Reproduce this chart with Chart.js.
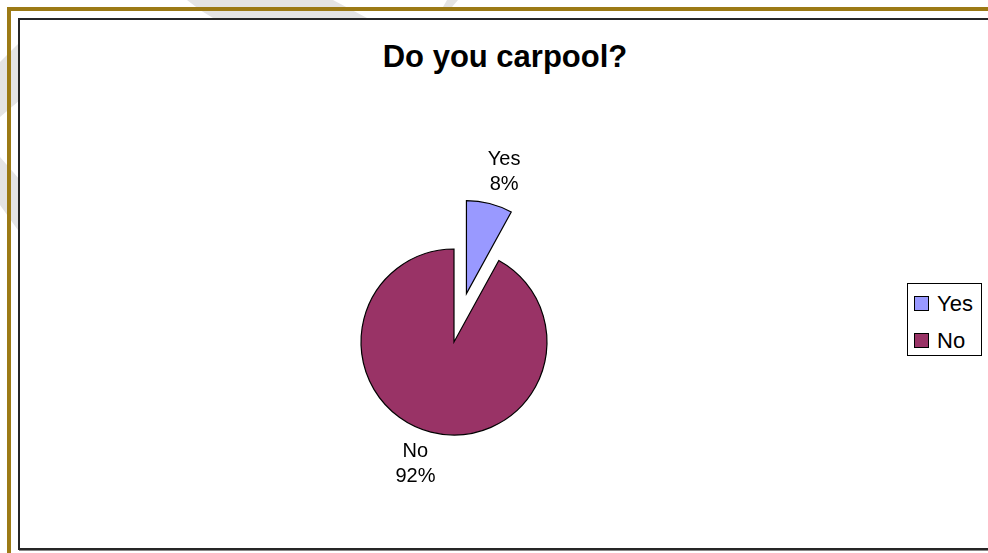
<!DOCTYPE html>
<html>
<head>
<meta charset="utf-8">
<title>Do you carpool?</title>
<script src="https://cdn.jsdelivr.net/npm/chart.js@4.4.1/dist/chart.umd.min.js"></script>
<style>
    html, body { margin: 0; padding: 0; background: #fff; }
    body { width: 988px; height: 553px; position: relative; overflow: hidden; font-family: 'Liberation Sans', Arial, sans-serif; }
    .mark { position: absolute; left: 0; top: 0; width: 988px; height: 553px; background: #e4e4e4; }
    .gold { position: absolute; left: 7px; top: 7px; width: 1000px; height: 600px; border: 4px solid #9c7a15; box-sizing: border-box; }
    .inner { position: absolute; left: 18px; top: 18px; width: 1000px; height: 532px; border: 2px solid #262626; box-sizing: border-box; background: #fff; box-shadow: 1px 1px 0 #888; }
    #title { position: absolute; left: 0; width: 1010px; top: 39px; text-align: center; font-weight: bold; font-size: 31px; color: #000; }
    #chart { position: absolute; left: 0; top: 0; }
    .legend { position: absolute; left: 907px; top: 283px; width: 75px; height: 73px; border: 1px solid #000; box-sizing: border-box; background: #fff; }
    .legend .row { position: absolute; left: 6px; height: 24px; line-height: 24px; font-size: 22px; color: #000; }
    .legend .sw { display: inline-block; width: 13px; height: 13px; border: 1px solid #000; vertical-align: middle; margin-right: 8px; position: relative; top: -2px; }
</style>
</head>
<body>
<!-- faint watermark strokes behind the frame -->
<div class="mark" style="clip-path: polygon(0 62px, 20px 42px, 20px 100px, 0 117px);"></div>
<div class="mark" style="clip-path: polygon(0 157px, 20px 180px, 20px 233px, 0 205px);"></div>
<div class="mark" style="clip-path: polygon(187px 0, 333px 0, 367px 18px, 213px 18px, 200px 10px);"></div>
<div class="mark" style="clip-path: polygon(447px 0, 458px 0, 452px 7px, 443px 7px);"></div>
<div class="gold"></div>
<div class="inner"></div>
<div id="title">Do you carpool?</div>
<canvas id="chart" width="988" height="553"></canvas>
<div class="legend">
    <div class="row" style="top: 8px;"><span class="sw" style="background:#9999ff;"></span>Yes</div>
    <div class="row" style="top: 45px;"><span class="sw" style="background:#993366;"></span>No</div>
</div>
<script>
// --- DATA ---
const categories = ['Yes', 'No'];
const percents = [8, 92];
const sliceColors = ['#9999ff', '#993366'];
const explode = [50, 0]; // pull-out in px, same radius kept

// draw each arc shifted along its mid angle (built-in offset also grows the radius)
const explodeArcs = {
    id: 'explodeArcs',
    beforeDatasetDraw(chart, args) {
        const ctx = chart.ctx;
        args.meta.data.forEach((arc, i) => {
            const mid = (arc.startAngle + arc.endAngle) / 2;
            ctx.save();
            ctx.translate(Math.cos(mid) * explode[i], Math.sin(mid) * explode[i]);
            arc.draw(ctx);
            ctx.restore();
        });
        return false;
    }
};

// slice labels drawn outside each arc
const sliceLabels = {
    id: 'sliceLabels',
    afterDatasetsDraw(chart) {
        const ctx = chart.ctx;
        const meta = chart.getDatasetMeta(0);
        ctx.save();
        ctx.font = "20px 'Liberation Sans', Arial, sans-serif";
        ctx.fillStyle = '#000';
        ctx.textAlign = 'center';
        ctx.textBaseline = 'middle';
        meta.data.forEach((arc, i) => {
            const p = arc.getProps(['x', 'y', 'startAngle', 'endAngle', 'outerRadius'], true);
            const off = explode[i];
            const mid = (p.startAngle + p.endAngle) / 2;
            const dx = Math.cos(mid), dy = Math.sin(mid);
            const lines = [categories[i], percents[i] + '%'];
            const w = Math.max(...lines.map(t => ctx.measureText(t).width));
            const lh = 25;
            const ax = p.x + dx * (off + p.outerRadius + 10);
            const ay = p.y + dy * (off + p.outerRadius + 10);
            const cx = ax + dx * w / 2 + Math.sign(dx) * 8;
            const cy = ay + dy * (lh - 2);
            ctx.fillText(lines[0], cx, cy - lh / 2);
            ctx.fillText(lines[1], cx, cy + lh / 2);
        });
        ctx.restore();
    }
};

new Chart(document.getElementById('chart'), {
    type: 'pie',
    data: {
        labels: categories,
        datasets: [{
            data: percents,
            backgroundColor: sliceColors,
            borderColor: '#000',
            borderWidth: 1.2,
            borderJoinStyle: 'miter'
        }]
    },
    options: {
        responsive: false,
        animation: false,
        radius: 93,
        layout: { padding: { left: 300, right: 380, top: 200, bottom: 69 } },
        plugins: { legend: { display: false }, tooltip: { enabled: false }, title: { display: false } }
    },
    plugins: [explodeArcs, sliceLabels]
});
</script>
</body>
</html>
